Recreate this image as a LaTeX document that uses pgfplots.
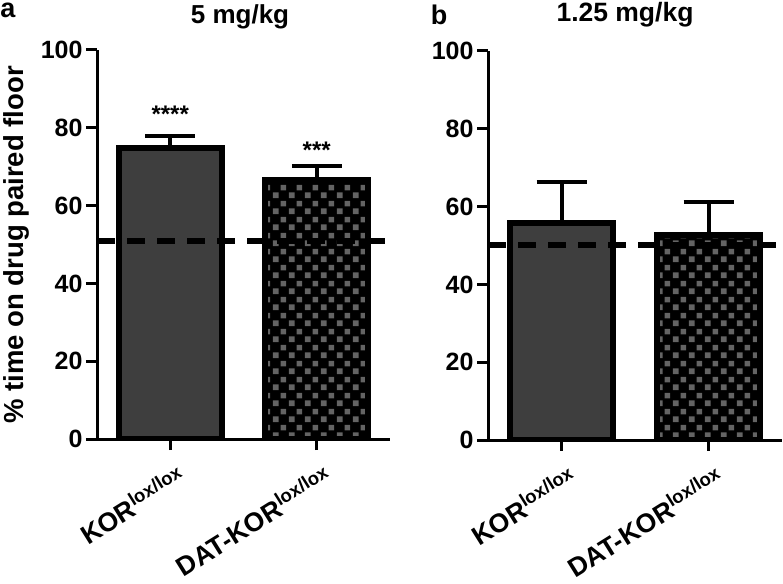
\documentclass[border=0pt]{standalone}
\usepackage{fontspec}
\setmainfont{Liberation Sans}
\usepackage{pgfplots}
\pgfplotsset{compat=1.18}
\usetikzlibrary{patterns}

\pgfdeclarepatternformonly{checks}{\pgfpointorigin}{\pgfqpoint{16pt}{16pt}}{\pgfqpoint{16pt}{16pt}}{%
  \pgfpathrectangle{\pgfqpoint{1pt}{1pt}}{\pgfqpoint{6pt}{6pt}}%
  \pgfpathrectangle{\pgfqpoint{9pt}{9pt}}{\pgfqpoint{6pt}{6pt}}%
  \pgfusepath{fill}}

\definecolor{bargray}{RGB}{62,62,62}
\definecolor{checkgray}{RGB}{100,100,100}

\pgfplotsset{
  panel/.style={
    scale only axis,
    width=293pt, height=389pt,
    anchor=south west,
    xmin=-0.5, xmax=1.5,
    ymin=0, ymax=100,
    axis x line*=bottom, axis y line*=left,
    axis line style={line width=3pt, -},
    xtick={0,1},
    xticklabels={KOR\textsuperscript{lox/lox}, DAT-KOR\textsuperscript{lox/lox}},
    ytick={0,20,...,100},
    tick align=outside,
    major tick length=11pt,
    tick style={line width=3pt, black},
    /pgf/number format/assume math mode=true,
    yticklabel style={font=\fontsize{25}{25}\selectfont\bfseries},
    xticklabel style={font=\fontsize{26.5}{26.5}\selectfont\bfseries, rotate=32, anchor=north east, inner sep=0pt, xshift=-2pt, yshift=-15pt},
  },
  errs/.style={error bars/.cd, y dir=plus, y explicit, error mark=|,
    error bar style={line width=4pt, black, solid},
    error mark options={line width=4pt, mark size=25pt, black, solid}},
  kor/.style={ybar, bar width=0.7, bar shift=0pt, draw=black, line width=6pt, fill=bargray, errs},
  dat/.style={ybar, bar width=0.7, bar shift=0pt, draw=black, line width=6pt, fill=black,
    postaction={pattern=checks, pattern color=checkgray}, errs},
  chance/.style={black, line width=6pt, dash pattern=on 18pt off 12pt, mark=none},
}

\begin{document}
\begin{tikzpicture}
\useasboundingbox (0pt,0pt) rectangle (783pt,583pt);

% panel a: 5 mg/kg
\begin{axis}[panel, at={(97pt,144pt)}]
  \addplot[kor] coordinates {(0,74.8) +- (0,3.2)};
  \addplot[dat] coordinates {(1,66.5) +- (0,3.8)};
  \addplot[chance] coordinates {(-0.5,51) (1.5,51)};
  \node[font=\fontsize{24}{24}\selectfont\bfseries] at (axis cs:0,83.6) {****};
  \node[font=\fontsize{24}{24}\selectfont\bfseries] at (axis cs:1,74.2) {***};
\end{axis}

% panel b: 1.25 mg/kg
\begin{axis}[panel, at={(488pt,143pt)}, width=294pt]
  \addplot[kor] coordinates {(0,55.8) +- (0,10.4)};
  \addplot[dat] coordinates {(1,52.8) +- (0,8.5)};
  \addplot[chance] coordinates {(-0.5,50) (1.5,50)};
\end{axis}

\node[font=\fontsize{27}{27}\selectfont\bfseries] at (8pt,573pt) {a};
\node[font=\fontsize{27}{27}\selectfont\bfseries] at (439pt,568pt) {b};
\node[font=\fontsize{26}{26}\selectfont\bfseries] at (240pt,566pt) {5 mg/kg};
\node[font=\fontsize{26.5}{26.5}\selectfont\bfseries] at (625pt,568pt) {1.25 mg/kg};
\node[font=\fontsize{27.5}{27.5}\selectfont\bfseries, rotate=90] at (16pt,338pt) {\% time on drug paired floor};
\end{tikzpicture}
\end{document}
